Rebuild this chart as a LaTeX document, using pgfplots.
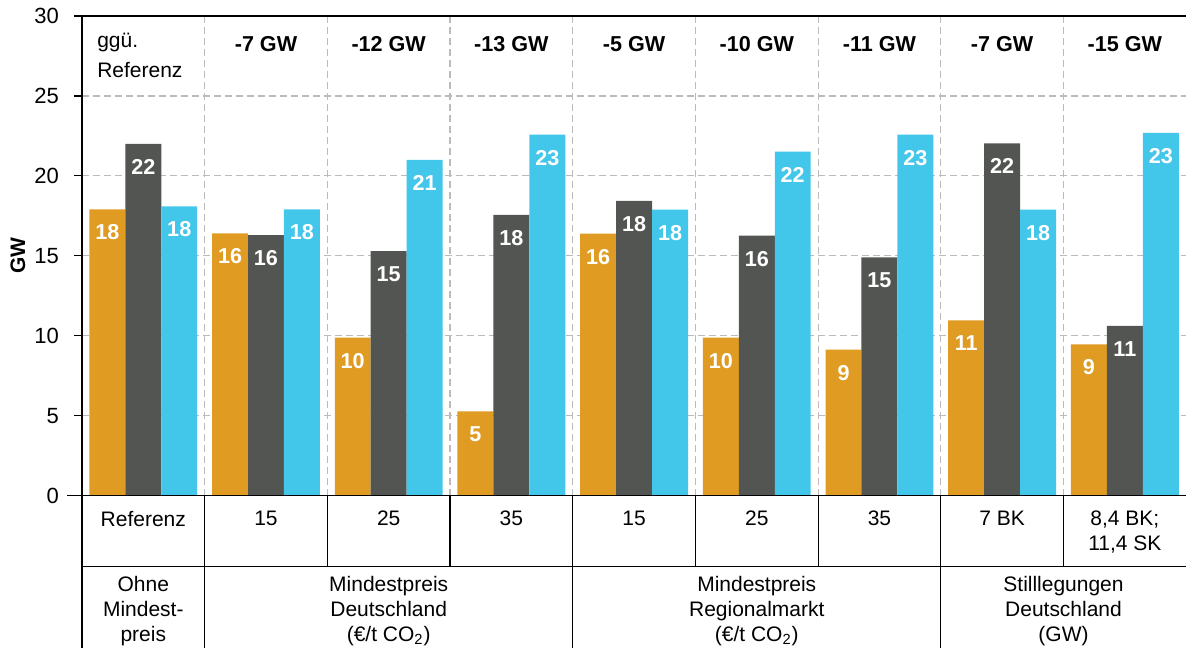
\documentclass[border=0pt]{standalone}
\usepackage{fontspec}
\setmainfont{Liberation Sans}
\usepackage{pgfplots}
\pgfplotsset{compat=1.18}
\usepackage{pgfplotstable}

\definecolor{cOrange}{HTML}{DF9B22}
\definecolor{cGray}{HTML}{535552}
\definecolor{cCyan}{HTML}{42C6EA}
\definecolor{cGrid}{HTML}{BBBBBB}

% Werte (GW) je Szenario: Serie a (orange), b (grau), c (cyan)
\pgfplotstableread{
x   a      b      c
0   17.9   22.0   18.1
1   16.4   16.3   17.9
2   9.88   15.3   21.0
3   5.27   17.56  22.58
4   16.39  18.43  17.89
5   9.88   16.27  21.52
6   9.14   14.91  22.58
7   10.96  22.04  17.89
8   9.46   10.62  22.69
}\datatable

\begin{document}
\begin{tikzpicture}
\begin{axis}[
  scale only axis,
  width=552.5pt, height=240pt,
  xmin=-0.5, xmax=8.5,
  ymin=0, ymax=30,
  axis lines*=left,
  axis line style={line width=0.8pt},
  clip=false,
  ybar=0pt, bar width=0.293,
  ytick={0,5,...,30},
  xtick={0.5,1.5,...,7.5},
  xticklabels={},
  xtick style={draw=none},
  ytick style={black, line width=0.6pt},
  tick align=outside,
  major tick length=4pt,
  ymajorgrids, xmajorgrids,
  major grid style={cGrid, dash pattern=on 3.5pt off 2pt, line width=0.6pt},
  /pgf/number format/assume math mode=true,
  yticklabel style={font=\fontsize{11}{13}\selectfont, xshift=-4pt},
  ylabel={GW},
  ylabel style={at={(axis description cs:-0.058,0.5)}, anchor=center,
                font=\fontsize{10.5}{12}\selectfont\bfseries},
  nodes near coords={\pgfmathprintnumber[fixed,precision=0,assume math mode=true]{\pgfplotspointmeta}},
  every node near coord/.append style={anchor=north, yshift=-4.2pt, text=white,
                font=\fontsize{10.8}{12}\selectfont\bfseries},
]
\addplot[fill=cOrange, draw=none] table[x=x, y=a] {\datatable};
\addplot[fill=cGray, draw=none] table[x=x, y=b] {\datatable};
\addplot[fill=cCyan, draw=none] table[x=x, y=c] {\datatable};

% Rahmen und Tabelle unter der Achse
\path (axis cs:-1.168,31) rectangle (axis cs:8.5,-9.5);
\draw[line width=0.8pt] (axis cs:-0.5,30) -- (axis cs:8.5,30);
\draw[line width=0.8pt] (axis cs:-0.62,0) -- (axis cs:8.5,0);
\draw[line width=0.6pt] (axis cs:-0.5,0) -- (axis cs:-0.5,-9.5);
\draw[line width=0.6pt] (axis cs:-0.5,-4.44) -- (axis cs:8.5,-4.44);
\pgfplotsinvokeforeach{0.5,1.5,...,7.5}{
  \draw[line width=0.6pt] (axis cs:#1,0) -- (axis cs:#1,-4.44);
}
\pgfplotsinvokeforeach{0.5,3.5,6.5}{
  \draw[line width=0.6pt] (axis cs:#1,-4.44) -- (axis cs:#1,-9.5);
}

% Kopfzeile: Differenz ggü. Referenz
\begin{scope}[every node/.style={font=\fontsize{10.5}{13.5}\selectfont}]
\node[anchor=west, align=left, inner sep=0pt] at (axis cs:-0.378,27.55) {ggü.\\[1.5pt]Referenz};
\end{scope}
\begin{scope}[every node/.style={font=\fontsize{10.8}{12}\selectfont\bfseries}]
\node at (axis cs:1,28.25) {-7 GW};
\node at (axis cs:2,28.25) {-12 GW};
\node at (axis cs:3,28.25) {-13 GW};
\node at (axis cs:4,28.25) {-5 GW};
\node at (axis cs:5,28.25) {-10 GW};
\node at (axis cs:6,28.25) {-11 GW};
\node at (axis cs:7,28.25) {-7 GW};
\node at (axis cs:8,28.25) {-15 GW};
\end{scope}

% Zeile 1
\begin{scope}[every node/.style={anchor=north, inner sep=0pt, align=center,
              font=\fontsize{10.5}{12.5}\selectfont}]
\node at (axis cs:0,-0.95) {Referenz};
\node at (axis cs:1,-0.95) {15};
\node at (axis cs:2,-0.95) {25};
\node at (axis cs:3,-0.95) {35};
\node at (axis cs:4,-0.95) {15};
\node at (axis cs:5,-0.95) {25};
\node at (axis cs:6,-0.95) {35};
\node at (axis cs:7,-0.95) {7 BK};
\node at (axis cs:8,-0.95) {8,4 BK;\\11,4 SK};
\end{scope}

% Zeile 2
\begin{scope}[every node/.style={align=center, inner sep=0pt,
              font=\fontsize{10.5}{12.5}\selectfont}]
\node at (axis cs:0,-7.2) {Ohne\\Mindest-\\preis};
\node at (axis cs:2,-7.2) {Mindestpreis\\Deutschland\\(€/t CO\textsubscript{2})};
\node at (axis cs:5,-7.2) {Mindestpreis\\Regionalmarkt\\(€/t CO\textsubscript{2})};
\node at (axis cs:7.5,-7.2) {Stilllegungen\\Deutschland\\(GW)};
\end{scope}
\end{axis}
\end{tikzpicture}
\end{document}
